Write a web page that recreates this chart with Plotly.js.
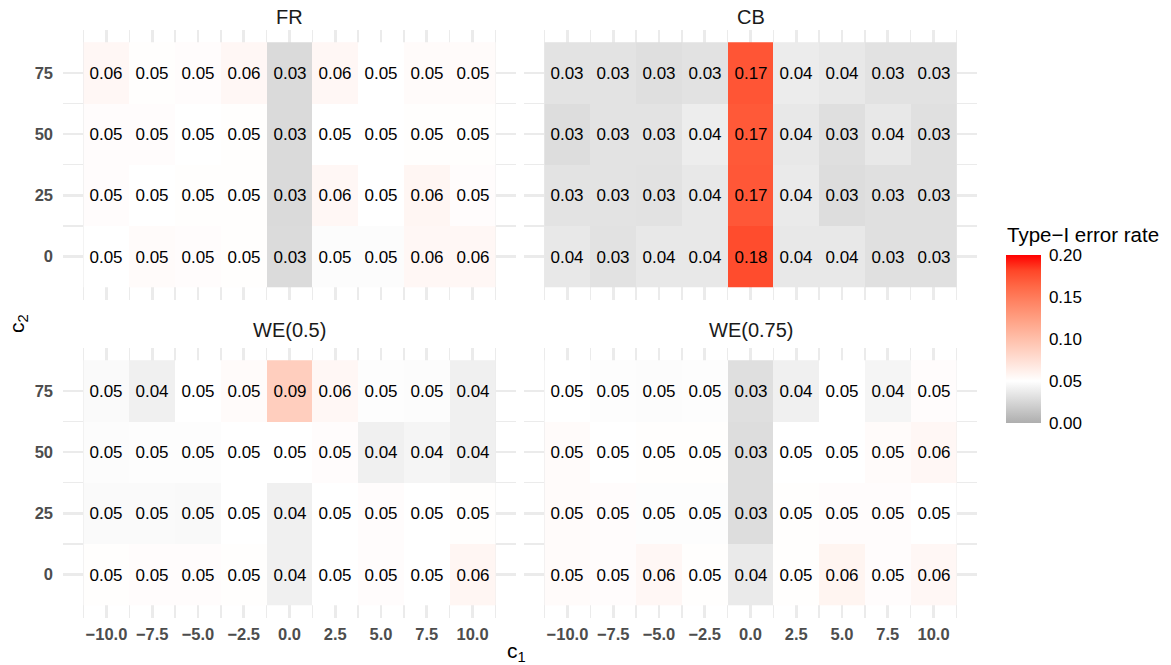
<!DOCTYPE html>
<html>
<head>
<meta charset="utf-8">
<script src="https://cdn.plot.ly/plotly-3.0.1.min.js"></script>
<style>html,body{margin:0;padding:0;background:#fff;}#chart{width:1171px;height:665px;}</style>
</head>
<body>
<div id="chart"></div>
<script>
// ---- data ----
const c1 = [-10, -7.5, -5, -2.5, 0, 2.5, 5, 7.5, 10];
const c2 = [0, 25, 50, 75];
const panelNames = ['FR', 'CB', 'WE(0.5)', 'WE(0.75)'];
const legendTitle = 'Type\u2212I error rate';
const legendTicks = [0, 0.05, 0.1, 0.15, 0.2];
const legendTickText = ['0.00', '0.05', '0.10', '0.15', '0.20'];

// FR rows (c2 = 0, 25, 50, 75)
const fr0  = [0.050, 0.053, 0.052, 0.051, 0.028, 0.048, 0.048, 0.056, 0.056];
const fr25 = [0.052, 0.050, 0.051, 0.051, 0.027, 0.056, 0.050, 0.057, 0.052];
const fr50 = [0.052, 0.052, 0.050, 0.051, 0.027, 0.050, 0.050, 0.051, 0.051];
const fr75 = [0.056, 0.051, 0.052, 0.056, 0.027, 0.056, 0.050, 0.053, 0.053];

// CB rows
const cb0  = [0.036, 0.032, 0.036, 0.036, 0.178, 0.036, 0.036, 0.031, 0.031];
const cb25 = [0.033, 0.033, 0.032, 0.036, 0.172, 0.037, 0.029, 0.031, 0.031];
const cb50 = [0.029, 0.033, 0.033, 0.039, 0.171, 0.036, 0.030, 0.036, 0.031];
const cb75 = [0.033, 0.033, 0.030, 0.032, 0.173, 0.038, 0.036, 0.032, 0.032];

// WE(0.5) rows
const we50_0  = [0.051, 0.052, 0.052, 0.051, 0.041, 0.050, 0.052, 0.050, 0.057];
const we50_25 = [0.047, 0.047, 0.046, 0.050, 0.041, 0.050, 0.052, 0.050, 0.051];
const we50_50 = [0.048, 0.049, 0.049, 0.050, 0.050, 0.052, 0.041, 0.044, 0.041];
const we50_75 = [0.047, 0.041, 0.050, 0.053, 0.088, 0.056, 0.049, 0.048, 0.041];

// WE(0.75) rows
const we75_0  = [0.053, 0.052, 0.056, 0.051, 0.037, 0.051, 0.058, 0.052, 0.056];
const we75_25 = [0.053, 0.052, 0.049, 0.049, 0.029, 0.051, 0.052, 0.052, 0.050];
const we75_50 = [0.053, 0.050, 0.051, 0.051, 0.029, 0.050, 0.050, 0.053, 0.056];
const we75_75 = [0.050, 0.049, 0.048, 0.049, 0.030, 0.041, 0.050, 0.044, 0.052];

const zData = [
  [fr0, fr25, fr50, fr75],
  [cb0, cb25, cb50, cb75],
  [we50_0, we50_25, we50_50, we50_75],
  [we75_0, we75_25, we75_50, we75_75]
];

// minor grid positions (cell borders)
const xMinor = [-11.25, -8.75, -6.25, -3.75, -1.25, 1.25, 3.75, 6.25, 8.75, 11.25];
const yMinor = [12.5, 37.5, 62.5];

// ---- layout geometry ----
const W = 1171, H = 665;
const colX = [[63, 516], [524, 977]];
const rowY = [[30, 299.5], [348, 617.5]];
const dx = p => p / W;
const dyDom = (t, b) => [1 - b / H, 1 - t / H];

const FONT = 'Liberation Sans, Arial, Helvetica, sans-serif';

const traces = [];
const layout = {
  width: W, height: H,
  margin: {l: 0, r: 0, t: 0, b: 0},
  paper_bgcolor: '#ffffff', plot_bgcolor: '#ffffff',
  font: {family: FONT, color: '#000000'},
  showlegend: false,
  coloraxis: {
    cmin: 0, cmax: 0.2,
    colorscale: [
      [0, '#AEAEAE'], [0.25, '#FFFFFF'],
      [0.34375, '#FFE7DF'], [0.4375, '#FFCFBF'], [0.53125, '#FFB7A0'],
      [0.625, '#FF9E81'], [0.71875, '#FF8464'], [0.8125, '#FF6846'],
      [0.90625, '#FF4628'], [1, '#FF0000']
    ],
    colorbar: {
      thicknessmode: 'pixels', thickness: 35,
      lenmode: 'pixels', len: 168,
      x: 1006 / W, xanchor: 'left',
      y: 1 - 423 / H, yanchor: 'bottom',
      xpad: 0, ypad: 0,
      outlinewidth: 0,
      tickvals: legendTicks,
      ticktext: legendTickText,
      ticks: 'outside', ticklen: 5, tickcolor: 'rgba(0,0,0,0)', tickwidth: 1,
      tickfont: {size: 17, color: '#000000', family: FONT}
    }
  },
  annotations: []
};

const gridMajor = '#EBEBEB';
for (let i = 0; i < 4; i++) {
  const col = i % 2, row = Math.floor(i / 2);
  const sfx = i === 0 ? '' : String(i + 1);
  traces.push({
    type: 'heatmap',
    x: c1, y: c2, z: zData[i],
    coloraxis: 'coloraxis',
    texttemplate: '%{z:.2f}',
    textfont: {size: 17, color: '#000000', family: FONT},
    hoverinfo: 'skip',
    xaxis: 'x' + sfx, yaxis: 'y' + sfx
  });
  const tickfont = {size: 16.5, color: '#4D4D4D', family: FONT, weight: 'bold'};
  layout['xaxis' + sfx] = {
    domain: [dx(colX[col][0]), dx(colX[col][1])],
    anchor: 'y' + sfx,
    range: [-12.375, 12.375],
    tickmode: 'array', tickvals: c1,
    ticktext: c1.map(v => (v < 0 ? '\u2212' : '') + Math.abs(v).toFixed(1)),
    showticklabels: row === 1,
    tickfont: tickfont,
    ticks: '', ticklabelstandoff: 5,
    showgrid: true, gridcolor: gridMajor, gridwidth: 2.7,
    minor: {tickmode: 'array', tickvals: xMinor, showgrid: true, gridcolor: gridMajor, gridwidth: 1.3},
    zeroline: false, showline: false, fixedrange: true
  };
  layout['yaxis' + sfx] = {
    domain: dyDom(rowY[row][0], rowY[row][1]),
    anchor: 'x' + sfx,
    range: [-17.5, 92.5],
    tickmode: 'array', tickvals: c2,
    showticklabels: col === 0,
    tickfont: tickfont,
    ticks: '', ticklabelstandoff: 9,
    showgrid: true, gridcolor: gridMajor, gridwidth: 2.7,
    minor: {tickmode: 'array', tickvals: yMinor, showgrid: true, gridcolor: gridMajor, gridwidth: 1.3},
    zeroline: false, showline: false, fixedrange: true
  };
  layout.annotations.push({
    text: panelNames[i], xref: 'paper', yref: 'paper',
    x: dx((colX[col][0] + colX[col][1]) / 2), y: 1 - (row === 0 ? 17 : 330) / H,
    xanchor: 'center', yanchor: 'middle', showarrow: false,
    font: {size: 20, color: '#1A1A1A', family: FONT}
  });
}
// legend title
layout.annotations.push({
  text: legendTitle, xref: 'paper', yref: 'paper',
  x: dx(1005), y: 1 - 235 / H, xanchor: 'left', yanchor: 'middle', showarrow: false,
  font: {size: 20.5, color: '#000000', family: FONT}
});
layout.annotations.push({
  text: 'c<sub>1</sub>', xref: 'paper', yref: 'paper',
  x: dx(516), y: 1 - 652 / H, xanchor: 'center', yanchor: 'middle', showarrow: false,
  font: {size: 21, color: '#000000', family: FONT}
});
layout.annotations.push({
  text: 'c<sub>2</sub>', xref: 'paper', yref: 'paper',
  x: dx(18), y: 1 - 324 / H, xanchor: 'center', yanchor: 'middle', showarrow: false,
  textangle: -90,
  font: {size: 21, color: '#000000', family: FONT}
});

Plotly.newPlot('chart', traces, layout, {displayModeBar: false, staticPlot: true});
</script>
</body>
</html>
